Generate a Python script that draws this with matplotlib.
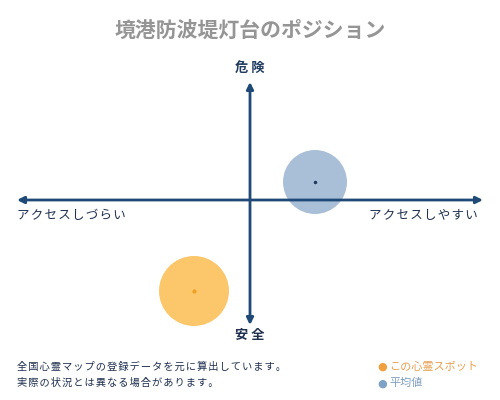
import matplotlib
matplotlib.use("Agg")
import matplotlib.pyplot as plt
from matplotlib.patches import Circle, FancyArrowPatch

plt.rcParams['font.family'] = ['Noto Sans CJK JP', 'DejaVu Sans']

title = "境港防波堤灯台のポジション"
labels_x = ["アクセスしづらい", "アクセスしやすい"]
labels_y = ["安 全", "危 険"]
series_names = ["この心霊スポット", "平均値"]
access = [-56, 65]      # horizontal: access ease
danger = [-91, 18]      # vertical: danger
radius = [35, 32]
fill_colors = ["#fcc66b", "#a9bfd8"]
dot_colors = ["#f0a020", "#1f3b5c"]
legend_colors = ["#f0a040", "#7fa3c6"]
legend_text_colors = ["#e8a050", "#7f9fc0"]
notes = ["全国心霊マップの登録データを元に算出しています。", "実際の状況とは異なる場合があります。"]

axis_color = "#1f4a78"


def spaced(s, sep="\u200a"):
    return sep.join(s)


fig = plt.figure(figsize=(5, 4), dpi=100)
ax = fig.add_axes([0, 0, 1, 1])
ax.set_xlim(-250, 250)
ax.set_ylim(-200, 200)
ax.axis('off')

# circles
for i, (x, y, r, fc, dc) in enumerate(zip(access, danger, radius, fill_colors, dot_colors)):
    ax.add_patch(Circle((x, y), r, facecolor=fc, edgecolor='none', zorder=2))
    ax.plot([x], [y], marker='o', markersize=2 if i == 0 else 1.5, color=dc, zorder=4)

# axes arrows
ax.add_patch(FancyArrowPatch((-233, 0), (233, 0), arrowstyle='<|-|>', mutation_scale=10,
                             color=axis_color, lw=2, zorder=3, shrinkA=0, shrinkB=0))
ax.add_patch(FancyArrowPatch((0, -125), (0, 118), arrowstyle='<|-|>', mutation_scale=10,
                             color=axis_color, lw=2, zorder=3, shrinkA=0, shrinkB=0))

# title
fig.text(0.5, 0.925, title, ha='center', va='center', fontsize=15, color='#959595', fontweight='bold')

# axis labels
ax.text(-233, -15, spaced(labels_x[0]), ha='left', va='center', fontsize=9, color='#1f3050')
ax.text(228, -15, spaced(labels_x[1]), ha='right', va='center', fontsize=9, color='#1f3050')
ax.text(0, 132, labels_y[1], ha='center', va='center', fontsize=9.5, color='#1f3b60', fontweight='bold')
ax.text(0, -135, labels_y[0], ha='center', va='center', fontsize=9.5, color='#1f3050', fontweight='bold')

# notes
fig.text(0.034, 0.083, spaced(notes[0]), ha='left', va='center', fontsize=7.4, color='#1f3050')
fig.text(0.034, 0.042, spaced(notes[1]), ha='left', va='center', fontsize=7.4, color='#1f3050')

# legend
for i, (name, lc, tc) in enumerate(zip(series_names, legend_colors, legend_text_colors)):
    yy = 0.083 - i * 0.041
    fig.text(0.755, yy, "●", ha='left', va='center', fontsize=8, color=lc, family=['DejaVu Sans'])
    fig.text(0.778, yy, name, ha='left', va='center', fontsize=8, color=tc)

fig.savefig("out.png", dpi=100, facecolor='white')
